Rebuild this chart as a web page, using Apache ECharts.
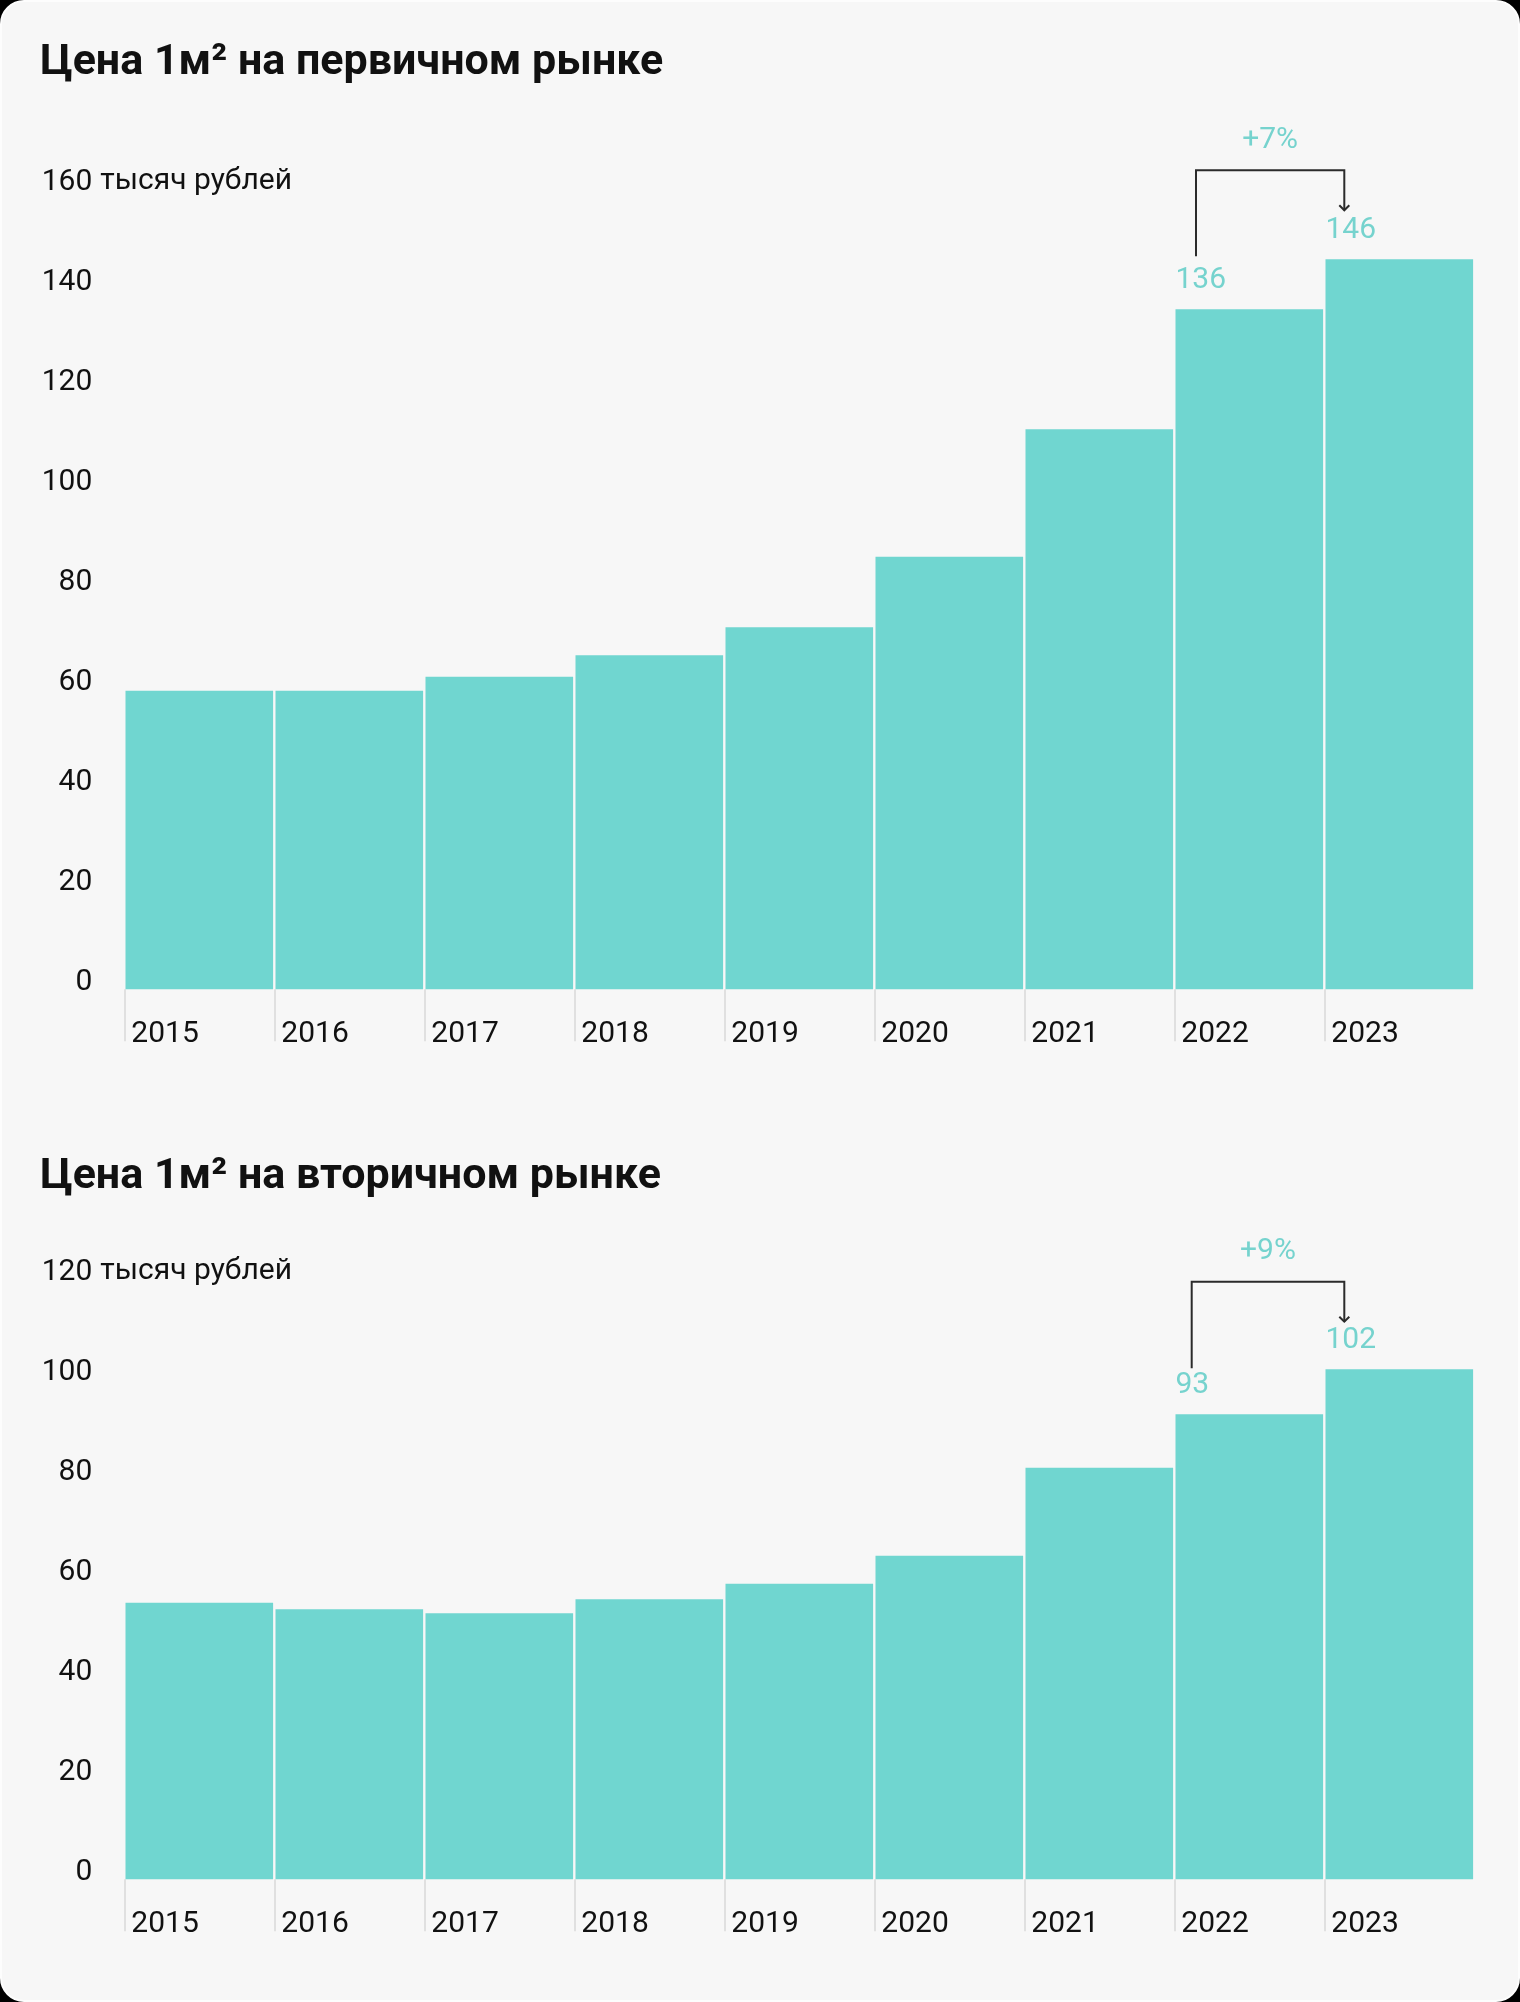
<!DOCTYPE html>
<html>
<head>
<meta charset="utf-8">
<script src="https://cdn.jsdelivr.net/npm/echarts@6/dist/echarts.min.js"></script>
<style>
html,body{margin:0;padding:0;background:#000;width:1520px;height:2002px;overflow:hidden;}
#panel{position:absolute;left:0;top:0;width:1520px;height:2002px;border-radius:24px;background:#f7f7f7;box-sizing:border-box;border:2px solid #fdfdfd;}
#chart{position:absolute;left:0;top:0;width:1520px;height:2002px;}
</style>
</head>
<body>
<div id="panel"></div>
<div id="chart"></div>
<script>
// ---- data ----
const years = ['2015', '2016', '2017', '2018', '2019', '2020', '2021', '2022', '2023'];
const primaryPrice = [59.7, 59.7, 62.5, 66.8, 72.4, 86.5, 112.0, 136, 146];
const secondaryPrice = [55.3, 54.0, 53.2, 56.0, 59.1, 64.7, 82.3, 93, 102];
const primaryTicks = [0, 20, 40, 60, 80, 100, 120, 140, 160];
const secondaryTicks = [0, 20, 40, 60, 80, 100, 120];
const labeledIndex = [7, 8];
const primaryChange = [7, 8, '+7%'];
const secondaryChange = [7, 8, '+9%'];
const titles = ['Цена 1м² на первичном рынке', 'Цена 1м² на вторичном рынке'];
const unitText = 'тысяч рублей';

// ---- styles ----
const FONT = 'Roboto, "Noto Sans", sans-serif';
const BAR = '#70d6d0';
const TEAL_TEXT = '#76d3ce';
const INK = '#111111';
const LINE = '#2b2b2b';

const panels = [
  { values: primaryPrice, ticks: primaryTicks, change: primaryChange, title: titles[0],
    grid: { left: 124.3, top: 189.3, width: 1350, height: 800 }, titleTop: 42,
    br: { leftDx: 21.7, rightDx: 20, leftDy: 53, tipDy: 49, topDy: 89, textDy: 30 } },
  { values: secondaryPrice, ticks: secondaryTicks, change: secondaryChange, title: titles[1],
    grid: { left: 124.3, top: 1279.3, width: 1350, height: 600 }, titleTop: 1155.3,
    br: { leftDx: 17.4, rightDx: 20, leftDy: 46, tipDy: 47.6, topDy: 87.6, textDy: 30 } }
];

const option = {
  animation: false,
  backgroundColor: 'transparent',
  textStyle: { fontFamily: FONT },
  title: panels.map(p => ({
    text: p.title, left: 40, top: p.titleTop, padding: 0,
    textStyle: { fontFamily: FONT, fontWeight: 'bold', fontSize: 43, color: INK }
  })),
  grid: panels.map(p => Object.assign({ containLabel: false, outerBoundsMode: 'none' }, p.grid)),
  xAxis: [],
  yAxis: [],
  series: []
};

panels.forEach((p, gi) => {
  // main category axis for the bars
  option.xAxis.push({
    type: 'category', gridIndex: gi, data: years, boundaryGap: true, position: 'bottom',
    axisLine: { show: false }, axisTick: { show: false }, axisLabel: { show: false },
    splitLine: { show: false }
  });
  // boundary axis for ticks and left-aligned year labels
  option.xAxis.push({
    type: 'category', gridIndex: gi, data: years.concat(['']), boundaryGap: false, position: 'bottom',
    axisLine: { show: false },
    axisTick: { show: true, length: 52, interval: (i) => i < years.length,
      lineStyle: { color: '#d9d9d9', width: 1.5 } },
    axisLabel: { show: true, interval: 0, align: 'left', verticalAlign: 'middle', margin: 45.5,
      padding: [0, 0, 0, 7], color: INK, fontSize: 30, fontFamily: FONT },
    splitLine: { show: false }
  });
  const t = p.ticks;
  option.yAxis.push({
    type: 'value', gridIndex: gi, min: t[0], max: t[t.length - 1], interval: t[1] - t[0],
    offset: 24,
    name: unitText, nameLocation: 'end', nameGap: 8,
    nameTextStyle: { align: 'left', verticalAlign: 'middle', fontSize: 30, color: INK, fontFamily: FONT },
    axisLine: { show: false }, axisTick: { show: false }, splitLine: { show: false },
    axisLabel: { margin: 8, align: 'right', verticalAlign: 'bottom', lineHeight: 14,
      fontSize: 30, color: INK, fontFamily: FONT }
  });
  option.series.push({
    type: 'bar', xAxisIndex: gi * 2, yAxisIndex: gi, barCategoryGap: '1.6%',
    itemStyle: { color: BAR },
    data: p.values.map((v, i) => labeledIndex.indexOf(i) >= 0
      ? { value: v, label: { show: true } } : v),
    label: { show: false, position: [0, -28.5], align: 'left', verticalAlign: 'middle',
      color: TEAL_TEXT, fontSize: 30, fontFamily: FONT, formatter: '{c}' },
    silent: true
  });
  const br = p.br;
  const vals = p.values;
  option.series.push({
    type: 'custom', xAxisIndex: gi * 2, yAxisIndex: gi, silent: true, z: 10, clip: false,
    data: [[p.change[0], p.change[1], vals[p.change[0]], vals[p.change[1]]]],
    encode: { x: 0, y: 2 },
    renderItem: function (params, api) {
      const i0 = api.value(0), i1 = api.value(1), v0 = api.value(2), v1 = api.value(3);
      const bw = api.size([1, 0])[0];
      const p0 = api.coord([i0, v0]);
      const p1 = api.coord([i1, v1]);
      const x0 = p0[0] - bw / 2 + br.leftDx;
      const x1 = p1[0] - bw / 2 + br.rightDx;
      const topY = Math.min(p0[1], p1[1]) - br.topDy;
      const y0 = p0[1] - br.leftDy;
      const y1 = p1[1] - br.tipDy;
      return {
        type: 'group',
        children: [
          { type: 'polyline', shape: { points: [[x0, y0], [x0, topY], [x1, topY], [x1, y1]] },
            style: { stroke: LINE, lineWidth: 2, fill: null } },
          { type: 'polyline', shape: { points: [[x1 - 5, y1 - 5], [x1, y1], [x1 + 5, y1 - 5]] },
            style: { stroke: LINE, lineWidth: 2, fill: null } },
          { type: 'text', x: (x0 + x1) / 2, y: topY - br.textDy,
            style: { text: p.change[2], align: 'center', verticalAlign: 'middle',
              fill: TEAL_TEXT, fontSize: 30, fontFamily: FONT } }
        ]
      };
    }
  });
});

const chart = echarts.init(document.getElementById('chart'), null, { renderer: 'canvas' });
chart.setOption(option);
</script>
</body>
</html>
